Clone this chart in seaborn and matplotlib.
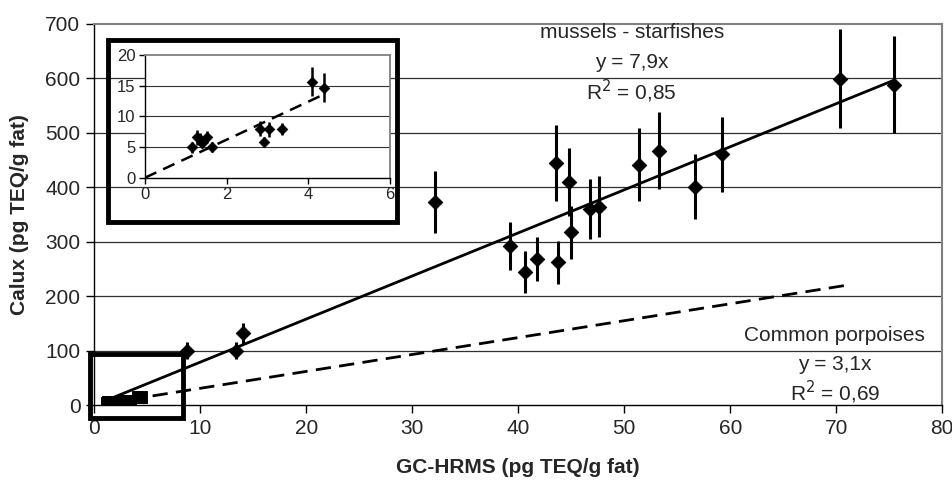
import numpy as np
import pandas as pd
import matplotlib
matplotlib.use("Agg")
import matplotlib.pyplot as plt
from matplotlib.patches import Rectangle
import seaborn as sns

# mussels - starfishes (main scatter)
mus_x = [8.7, 13.4, 14.0, 32.1, 39.2, 40.6, 41.8, 43.6, 43.7, 44.75, 44.97,
         46.8, 47.6, 51.4, 53.3, 56.7, 59.2, 70.35, 75.4]
mus_y = [100, 100, 132, 372, 292, 244, 268, 444, 262, 409, 317,
         359, 364, 441, 467, 401, 460, 599, 588]
mus_err = [15, 15, 19, 57, 44, 38, 41, 70, 40, 62, 48,
           55, 56, 67, 70, 60, 69, 90, 89]

# common porpoises (inset + squares near origin)
por_x = [1.16, 1.27, 1.35, 1.39, 1.51, 1.63, 2.82, 2.91, 3.03, 3.36, 4.09, 4.39]
por_y = [4.95, 6.6, 6.25, 5.7, 6.6, 4.95, 8.0, 5.9, 7.9, 7.9, 15.65, 14.7]
por_err = [0.9, 1.2, 1.0, 0.9, 1.0, 0.8, 1.2, 0.8, 1.2, 1.0, 2.4, 2.3]

slope_mus = 7.9
slope_por = 3.1
mus_line_x = [1.15, 75.4]
por_line_x = [1.1, 71.0]
por_inset_line_x = [0.0, 4.4]

x_ticks = [0, 10, 20, 30, 40, 50, 60, 70, 80]
y_ticks = [0, 100, 200, 300, 400, 500, 600, 700]
inset_x_ticks = [0, 2, 4, 6]
inset_y_ticks = [0, 5, 10, 15, 20]

sns.set_theme(style="white")
plt.rcParams['font.family'] = ['Liberation Sans', 'DejaVu Sans']

W, H = 953, 483
FS = 15
fig = plt.figure(figsize=(W / 100, H / 100), dpi=100)
ax = fig.add_axes([94.3 / W, 1 - 405.2 / H, 848 / W, 381.7 / H])

mus = pd.DataFrame({"x": mus_x, "y": mus_y})
por = pd.DataFrame({"x": por_x, "y": por_y})

ax.errorbar(mus_x, mus_y, yerr=mus_err, fmt="none", ecolor="black",
            elinewidth=2.2, capsize=0, zorder=3)
sns.scatterplot(data=mus, x="x", y="y", marker="D", s=55, color="black",
                edgecolor="black", ax=ax, zorder=4)
sns.scatterplot(data=por, x="x", y="y", marker="s", s=70, color="black",
                edgecolor="black", ax=ax, zorder=4)

lx = np.array(mus_line_x)
sns.lineplot(x=lx, y=slope_mus * lx, color="black", lw=2, ax=ax, zorder=2)
px = np.array(por_line_x)
ax.plot(px, slope_por * px, color="black", lw=2, dashes=(5.5, 3), zorder=2)

ax.set_xlim(0, 80)
ax.set_ylim(0, 700)
ax.set_xticks(x_ticks)
ax.set_yticks(y_ticks)
ax.tick_params(axis="both", which="both", direction="out", length=6,
               width=1, color="black", labelsize=FS, bottom=True, left=True,
               pad=4)
ax.set_xlabel("GC-HRMS (pg TEQ/g fat)", fontsize=FS, fontweight="bold",
              labelpad=14)
ax.set_ylabel("Calux (pg TEQ/g fat)", fontsize=FS, fontweight="bold",
              labelpad=12)
for v in y_ticks[1:-1]:
    ax.axhline(v, color="#303030", lw=0.9, zorder=1)
for s in ["top", "right"]:
    ax.spines[s].set_color("#808080")
    ax.spines[s].set_linewidth(1.5)
for s in ["left", "bottom"]:
    ax.spines[s].set_color("black")
    ax.spines[s].set_linewidth(1)

ax.text(50.7, 683, "mussels - starfishes", ha="center", va="center", fontsize=FS)
ax.text(50.7, 628, "y = 7,9x", ha="center", va="center", fontsize=FS)
ax.text(50.7, 575, "R$^2$ = 0,85", ha="center", va="center", fontsize=FS)
ax.text(69.8, 128, "Common porpoises", ha="center", va="center", fontsize=FS)
ax.text(69.9, 74, "y = 3,1x", ha="center", va="center", fontsize=FS)
ax.text(69.9, 24, "R$^2$ = 0,69", ha="center", va="center", fontsize=FS)

# highlight box near origin
fig.patches.append(Rectangle((90.5 / W, 1 - 418 / H), 92.5 / W, 64.5 / H,
                             transform=fig.transFigure, fill=False,
                             edgecolor="black", lw=3.5, zorder=10))

# inset
ins = fig.add_axes([145 / W, 1 - 177.7 / H, 245 / W, 122.7 / H])
ins.errorbar(por_x, por_y, yerr=por_err, fmt="none", ecolor="black",
             elinewidth=1.8, capsize=0, zorder=3)
sns.scatterplot(data=por, x="x", y="y", marker="D", s=30, color="black",
                edgecolor="black", ax=ins, zorder=4)
ix = np.array(por_inset_line_x)
ins.plot(ix, slope_por * ix, color="black", lw=1.8, dashes=(5, 3), zorder=2)
ins.set_xlim(0, 6)
ins.set_ylim(0, 20)
ins.set_xticks(inset_x_ticks)
ins.set_yticks(inset_y_ticks)
ins.set_xlabel("")
ins.set_ylabel("")
ins.tick_params(axis="both", direction="out", length=4, width=1,
                color="black", labelsize=12, bottom=True, left=True, pad=3)
for v in inset_y_ticks[1:-1]:
    ins.axhline(v, color="#303030", lw=0.8, zorder=1)
for s in ["top", "right"]:
    ins.spines[s].set_color("#808080")
    ins.spines[s].set_linewidth(1.3)
for s in ["left", "bottom"]:
    ins.spines[s].set_color("black")
    ins.spines[s].set_linewidth(1)

fig.patches.append(Rectangle((108.5 / W, 1 - 221.5 / H), 288 / W, 181.5 / H,
                             transform=fig.transFigure, fill=False,
                             edgecolor="black", lw=3.5, zorder=10))

fig.savefig("out.png", dpi=100)
